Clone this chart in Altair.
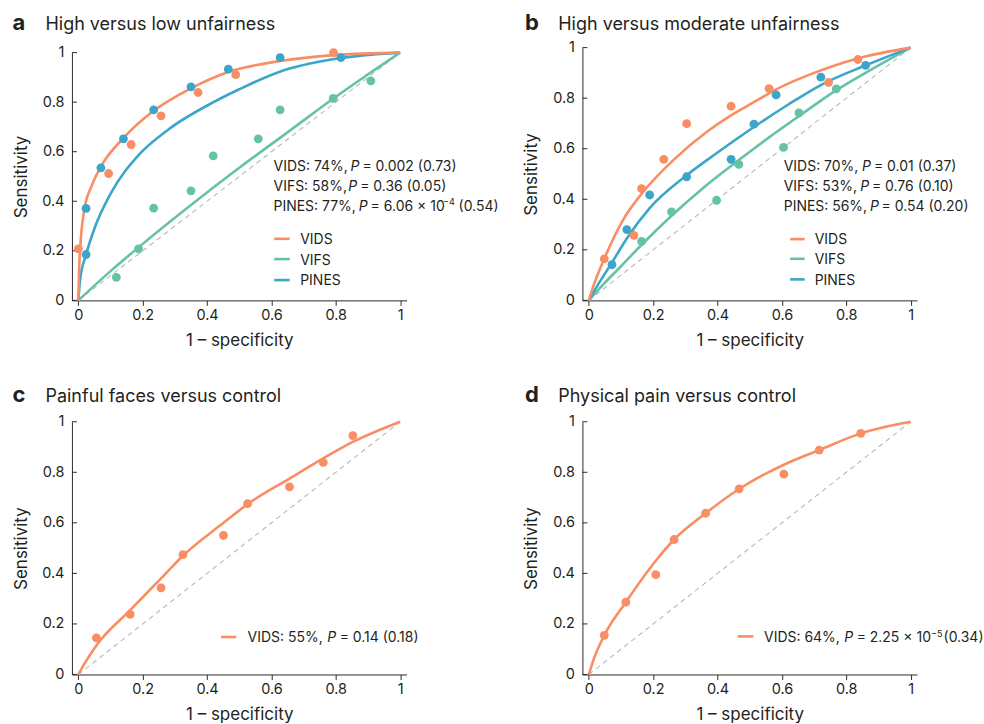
import altair as alt
import pandas as pd

# ---------------------------------------------------------------- data
SERIES = ["VIDS", "VIFS", "PINES"]
COLORS = ["#F98D63", "#66C2A5", "#3CA5CA"]
TICKS = [0, 0.2, 0.4, 0.6, 0.8, 1]
DIAG = [0, 1]

# panel a: observed points
A_VIDS_X = [0.0, 0.094, 0.164, 0.257, 0.372, 0.489, 0.793]
A_VIDS_Y = [0.208, 0.512, 0.629, 0.745, 0.839, 0.911, 1.0]
A_VIFS_X = [0.118, 0.187, 0.234, 0.35, 0.419, 0.559, 0.627, 0.792, 0.909]
A_VIFS_Y = [0.093, 0.208, 0.372, 0.442, 0.583, 0.652, 0.769, 0.815, 0.886]
A_PINES_X = [0.024, 0.024, 0.07, 0.14, 0.234, 0.35, 0.466, 0.627, 0.816]
A_PINES_Y = [0.185, 0.371, 0.535, 0.652, 0.769, 0.862, 0.933, 0.98, 0.98]
# panel a: fitted curves
A_VIDS_FX = [0, 0.002, 0.006, 0.019, 0.04, 0.07, 0.14, 0.234, 0.35, 0.466, 0.627, 0.795, 1]
A_VIDS_FY = [0, 0.11, 0.216, 0.37, 0.458, 0.54, 0.655, 0.765, 0.856, 0.922, 0.966, 0.99, 1]
A_VIFS_FX = [0, 0.1, 0.2, 0.35, 0.5, 0.65, 0.8, 0.9, 1]
A_VIFS_FY = [0, 0.118, 0.228, 0.385, 0.535, 0.678, 0.822, 0.912, 1]
A_PINES_FX = [0, 0.005, 0.024, 0.05, 0.1, 0.19, 0.28, 0.42, 0.5, 0.63, 0.8, 1]
A_PINES_FY = [0, 0.08, 0.185, 0.29, 0.43, 0.59, 0.69, 0.8, 0.852, 0.925, 0.975, 1]

# panel b: observed points
B_VIDS_X = [0.048, 0.14, 0.164, 0.233, 0.304, 0.442, 0.56, 0.745, 0.836]
B_VIDS_Y = [0.164, 0.257, 0.442, 0.558, 0.699, 0.768, 0.838, 0.862, 0.953]
B_VIFS_X = [0.164, 0.257, 0.397, 0.466, 0.605, 0.653, 0.769]
B_VIFS_Y = [0.233, 0.35, 0.396, 0.538, 0.605, 0.742, 0.837]
B_PINES_X = [0.072, 0.118, 0.189, 0.304, 0.442, 0.513, 0.582, 0.721, 0.86]
B_PINES_Y = [0.141, 0.28, 0.417, 0.489, 0.558, 0.697, 0.813, 0.883, 0.93]
# panel b: fitted curves
B_VIDS_FX = [0, 0.015, 0.048, 0.112, 0.163, 0.267, 0.37, 0.443, 0.514, 0.587, 0.69, 0.835, 1]
B_VIDS_FY = [0, 0.06, 0.165, 0.33, 0.42, 0.56, 0.67, 0.733, 0.785, 0.838, 0.895, 0.957, 1]
B_VIFS_FX = [0, 0.05, 0.1, 0.164, 0.257, 0.36, 0.466, 0.56, 0.654, 0.767, 0.88, 1]
B_VIFS_FY = [0, 0.07, 0.135, 0.22, 0.335, 0.45, 0.555, 0.645, 0.73, 0.83, 0.915, 1]
B_PINES_FX = [0, 0.03, 0.072, 0.118, 0.189, 0.304, 0.4, 0.512, 0.62, 0.721, 0.861, 1]
B_PINES_FY = [0, 0.065, 0.15, 0.245, 0.365, 0.495, 0.585, 0.685, 0.775, 0.852, 0.93, 1]

# panel c
C_VIDS_X = [0.056, 0.161, 0.257, 0.325, 0.451, 0.526, 0.656, 0.761, 0.853]
C_VIDS_Y = [0.145, 0.238, 0.343, 0.474, 0.55, 0.676, 0.742, 0.839, 0.945]
C_VIDS_FX = [0, 0.02, 0.056, 0.161, 0.257, 0.325, 0.451, 0.526, 0.656, 0.761, 0.853, 1]
C_VIDS_FY = [0, 0.045, 0.115, 0.255, 0.38, 0.47, 0.6, 0.674, 0.775, 0.855, 0.92, 1]

# panel d
D_VIDS_X = [0.048, 0.115, 0.208, 0.265, 0.363, 0.467, 0.606, 0.716, 0.845]
D_VIDS_Y = [0.155, 0.286, 0.395, 0.534, 0.638, 0.734, 0.793, 0.888, 0.954]
D_VIDS_FX = [0, 0.015, 0.048, 0.115, 0.208, 0.265, 0.363, 0.467, 0.606, 0.716, 0.845, 1]
D_VIDS_FY = [0, 0.06, 0.155, 0.286, 0.45, 0.534, 0.638, 0.734, 0.83, 0.888, 0.954, 1]

# ---------------------------------------------------------------- style / layout
FONT = "Inter"
INK = "#231f20"
AXIS_INK = "#2b2b2b"
PLOT_W = 335
PLOT_H = 253
ORIGIN = {"a": (71.5, 47.3), "b": (582.5, 47.3), "c": (71.5, 421.8), "d": (582.5, 421.8)}
DUMMY = pd.DataFrame({"k": [0]})

# annotations in page coordinates: (kind, x, y_baseline, text)
ANN = {
    "a": [
        ("L", 12, 29.3, "a"), ("T", 45, 29.3, "High versus low unfairness"),
        ("n", 273.3, 171.3, "VIDS: 74%,"), ("i", 350.3, 171.3, "P"), ("n", 362.3, 171.3, "= 0.002 (0.73)"),
        ("n", 273.3, 191.0, "VIFS: 58%,"), ("i", 348.0, 191.0, "P"), ("n", 360.0, 191.0, "= 0.36 (0.05)"),
        ("n", 273.3, 210.6, "PINES: 77%,"), ("i", 358.5, 210.6, "P"), ("n", 370.5, 210.6, "= 6.06 \u00d7 10"),
        ("s", 443.0, 205.0, "\u22124"), ("n", 458.5, 210.6, "(0.54)"),
        ("n", 300, 244.2, "VIDS"), ("n", 300, 264.6, "VIFS"), ("n", 300, 285.2, "PINES"),
    ],
    "b": [
        ("L", 525, 29.3, "b"), ("T", 558.3, 29.3, "High versus moderate unfairness"),
        ("n", 784, 171.0, "VIDS: 70%,"), ("i", 862.5, 171.0, "P"), ("n", 874.3, 171.0, "= 0.01 (0.37)"),
        ("n", 784, 191.0, "VIFS: 53%,"), ("i", 860.5, 191.0, "P"), ("n", 872.3, 191.0, "= 0.76 (0.10)"),
        ("n", 784, 211.0, "PINES: 56%,"), ("i", 870.3, 211.0, "P"), ("n", 882.0, 211.0, "= 0.54 (0.20)"),
        ("n", 815, 244.0, "VIDS"), ("n", 815, 264.3, "VIFS"), ("n", 815, 284.7, "PINES"),
    ],
    "c": [
        ("L", 12, 401.7, "c"), ("T", 45, 401.7, "Painful faces versus control"),
        ("n", 247.3, 642.4, "VIDS: 55%,"), ("i", 327.0, 642.4, "P"), ("n", 339.5, 642.4, "= 0.14 (0.18)"),
    ],
    "d": [
        ("L", 525, 402.0, "d"), ("T", 558.3, 402.0, "Physical pain versus control"),
        ("n", 764.3, 642.6, "VIDS: 64%,"), ("i", 844.5, 642.6, "P"), ("n", 857.0, 642.6, "= 2.25 \u00d7 10"),
        ("s", 931.5, 637.0, "\u22125"), ("n", 944.0, 642.6, "(0.34)"),
    ],
}
# legend swatches in page coordinates: (x1, x2, y, series)
SWATCH = {
    "a": [(274, 289.5, 238.7, "VIDS"), (274, 289.5, 259.0, "VIFS"), (274, 289.5, 280.0, "PINES")],
    "b": [(790.5, 805, 239.0, "VIDS"), (790.5, 805, 258.7, "VIFS"), (790.5, 805, 279.3, "PINES")],
    "c": [(220.7, 236, 637.3, "VIDS")],
    "d": [(738, 753.7, 636.7, "VIDS")],
}

STYLE = {
    "n": dict(fontSize=14, fontWeight="normal", fontStyle="normal"),
    "i": dict(fontSize=14, fontWeight="normal", fontStyle="italic"),
    "s": dict(fontSize=9, fontWeight="normal", fontStyle="normal"),
    "L": dict(fontSize=22, fontWeight="bold", fontStyle="normal"),
    "T": dict(fontSize=18, fontWeight="normal", fontStyle="normal"),
}

color_scale = alt.Scale(domain=SERIES, range=COLORS)


def build_panel(key, points, fits, y_top=0):
    ox, oy = ORIGIN[key]
    xsc = alt.Scale(domain=[-0.02, 1.02], nice=False, zero=False)
    ysc = alt.Scale(domain=[0, 1], nice=False, zero=False, range=[PLOT_H, y_top])
    xaxis = alt.Axis(values=TICKS, format="~g", title="1 \u2013 specificity", grid=False,
                     tickSize=5, labelPadding=3, titleBaseline="alphabetic", titleY=44.7,
                     labelFlush=False, labelOverlap=False)
    yaxis = alt.Axis(values=TICKS, format="~g", title="Sensitivity", grid=False,
                     ticks=False, tickSize=0, labelPadding=8, titleX=-50.5,
                     titleY=(PLOT_H + y_top) / 2, titleBaseline="middle",
                     labelFlush=False, labelOverlap=False)
    X = alt.X("x:Q", scale=xsc, axis=xaxis)
    Y = alt.Y("y:Q", scale=ysc, axis=yaxis)

    diag = alt.Chart(pd.DataFrame({"x": DIAG, "y": DIAG})).mark_line(
        color="#b8b8b8", strokeWidth=1.1, strokeDash=[5, 4]).encode(x=X, y=Y)

    ticks = alt.Chart(pd.DataFrame({"y": TICKS})).mark_rule(
        color=AXIS_INK, strokeWidth=1).encode(x=alt.value(0), x2=alt.value(5), y=Y)

    frows = []
    for s, xs, ys in fits:
        for i, (a, b) in enumerate(zip(xs, ys)):
            frows.append({"s": s, "x": a, "y": b, "i": i})
    lines = alt.Chart(pd.DataFrame(frows)).mark_line(
        strokeWidth=2.6, interpolate="monotone").encode(
        x=X, y=Y, color=alt.Color("s:N", scale=color_scale, legend=None),
        detail="s:N", order=alt.Order("i:Q"))

    prows = []
    for s, xs, ys in points:
        for a, b in zip(xs, ys):
            prows.append({"s": s, "x": a, "y": b})
    dots = alt.Chart(pd.DataFrame(prows)).mark_circle(size=78, opacity=1).encode(
        x=X, y=Y, color=alt.Color("s:N", scale=color_scale, legend=None))

    layers = [diag, ticks, lines, dots]

    cmap = dict(zip(SERIES, COLORS))
    for x1, x2, yy, s in SWATCH[key]:
        layers.append(alt.Chart(DUMMY).mark_rule(color=cmap[s], strokeWidth=2.6).encode(
            x=alt.value(x1 - ox), x2=alt.value(x2 - ox), y=alt.value(yy - oy)))

    for kind, tx, ty, text in ANN[key]:
        layers.append(alt.Chart(DUMMY).mark_text(
            align="left", baseline="alphabetic", font=FONT, color=INK, **STYLE[kind]).encode(
            x=alt.value(tx - ox), y=alt.value(ty - oy), text=alt.value(text)))

    return alt.layer(*layers).properties(width=PLOT_W, height=PLOT_H)


pa = build_panel("a",
                 [("PINES", A_PINES_X, A_PINES_Y), ("VIFS", A_VIFS_X, A_VIFS_Y), ("VIDS", A_VIDS_X, A_VIDS_Y)],
                 [("VIFS", A_VIFS_FX, A_VIFS_FY), ("PINES", A_PINES_FX, A_PINES_FY), ("VIDS", A_VIDS_FX, A_VIDS_FY)],
                 y_top=5)
pb = build_panel("b",
                 [("VIDS", B_VIDS_X, B_VIDS_Y), ("VIFS", B_VIFS_X, B_VIFS_Y), ("PINES", B_PINES_X, B_PINES_Y)],
                 [("VIFS", B_VIFS_FX, B_VIFS_FY), ("PINES", B_PINES_FX, B_PINES_FY), ("VIDS", B_VIDS_FX, B_VIDS_FY)])
pc = build_panel("c", [("VIDS", C_VIDS_X, C_VIDS_Y)], [("VIDS", C_VIDS_FX, C_VIDS_FY)])
pd_ = build_panel("d", [("VIDS", D_VIDS_X, D_VIDS_Y)], [("VIDS", D_VIDS_FX, D_VIDS_FY)])

chart = alt.concat(pa, pb, pc, pd_, columns=2,
                   spacing={"row": 121.5, "column": 176}, bounds="flush").properties(
    padding={"left": 12, "top": 11.3, "right": 0, "bottom": 0}
).configure_view(stroke=None).configure_axis(
    labelFont=FONT, titleFont=FONT, labelFontSize=14.5, titleFontSize=17,
    labelColor=INK, titleColor=INK, titleFontWeight="normal",
    domainColor=AXIS_INK, tickColor=AXIS_INK, domainWidth=1, tickWidth=1,
)

chart.save("out.html", embed_options={"renderer": "svg", "actions": False})
